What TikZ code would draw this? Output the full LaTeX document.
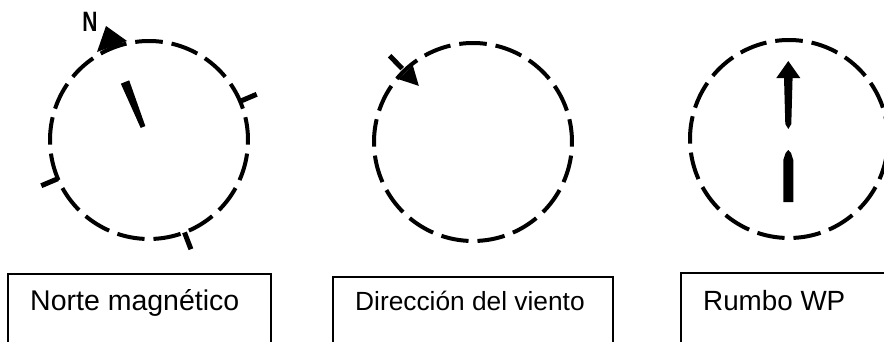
\documentclass[tikz,border=0pt]{standalone}
\usepackage{fontspec}
\setmainfont{Liberation Sans}
\usetikzlibrary{calc}

\begin{document}
\begin{tikzpicture}[x=1pt, y=1pt,
      ring/.style={line width=4pt},
      tick/.style={line width=5pt},
      labelbox/.style={line width=1.3pt},
      label/.style={inner sep=0pt, anchor=base west},
      every node/.style={color=black}
      ]
      \useasboundingbox (0,0) rectangle (884,341);

      % dashed rings
      \def\r{99}
      \coordinate (C1) at (149,201);
      \coordinate (C2) at (473,199);
      \coordinate (C3) at (789,202);
      \foreach \c in {C1,C2,C3}
        \foreach \k in {0,...,16}
          \draw[ring] ($(\c)+({82+\k*360/17}:\r)$) arc[start angle={82+\k*360/17}, delta angle=16, radius=\r];

      % magnetic north
      \fill (106,315) -- (97,289) -- (127,300) -- cycle;
      \node[font=\bfseries\fontsize{28}{28}\selectfont, xscale=.75, inner sep=0pt] (N) at (90,319) {N};
      \coordinate (A1) at (125,259);
      \coordinate (B1) at (143,214);
      \fill ($(A1)!4.5pt!90:(B1)$) -- ($(A1)!4.5pt!-90:(B1)$) -- ($(B1)!2.5pt!90:(A1)$) -- ($(B1)!2.5pt!-90:(A1)$) -- cycle;
      \foreach \a in {23,203,-69}
        \draw[tick] ($(C1)+(\a:\r)$) -- ($(C1)+(\a:117)$);

      % wind
      \draw[tick] ($(C2)+(134:102)$) -- ($(C2)+(134:120)$);
      \fill ($(C2)+(134:78)$) -- ($(C2)+(134:97)+(44:10)$) -- ($(C2)+(134:97)+(224:10)$) -- cycle;

      % waypoint heading
      \fill (776.3,263) -- (788.3,280) -- (800.3,263) -- cycle;
      \fill (784,264) -- (792.6,264) -- (791.3,217) -- (788.3,212) -- (785.3,217) -- cycle;
      \fill (783.3,139) -- (783.3,181) -- (785.6,188) -- (788.3,191) -- (791,188) -- (793.3,181) -- (793.3,139) -- cycle;

      % labels
      \node[label, font=\fontsize{28.5}{30}\selectfont] (lblNorte) at (30,31) {Norte magnético};
      \node[label, font=\fontsize{26.3}{28}\selectfont] (lblViento) at (355,31) {Dirección del viento};
      \node[label, font=\fontsize{27.8}{30}\selectfont] (lblRumbo) at (703,31) {Rumbo WP};
      \draw[labelbox] (8,-5) |- (271,67) -- (271,-5);
      \draw[labelbox] (333,-5) |- (613,64) -- (613,-5);
      \draw[labelbox] (681,-5) |- (890,68);
    \end{tikzpicture}
\end{document}
